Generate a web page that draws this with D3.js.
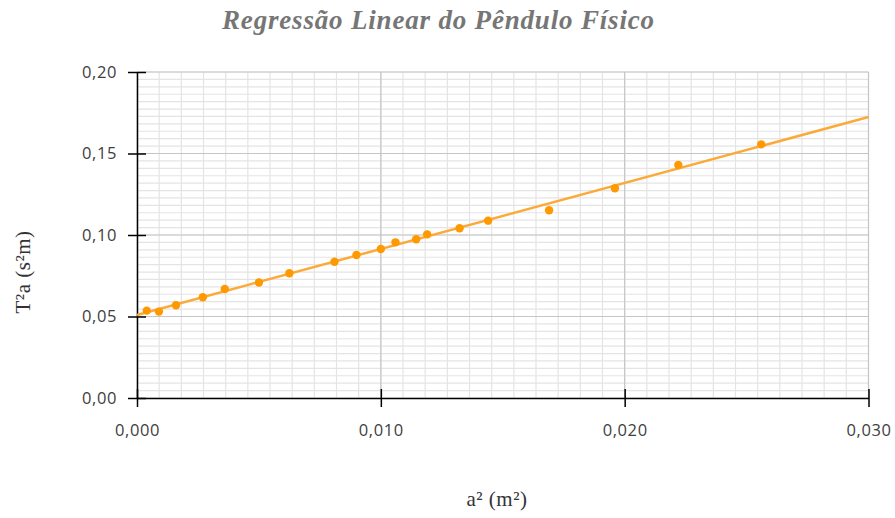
<!DOCTYPE html>
<html>
<head>
<meta charset="utf-8">
<script src="https://cdn.jsdelivr.net/npm/d3@7"></script>
<style>
  html, body { margin: 0; padding: 0; background: #ffffff; }
  svg { display: block; }
</style>
</head>
<body>
<svg id="chart" width="895" height="518"></svg>
<script>
// ---- data ----
const xValues = [0.0004, 0.0009, 0.0016, 0.0027, 0.0036, 0.0050, 0.00625, 0.0081, 0.0090, 0.0100,
                 0.0106, 0.01145, 0.0119, 0.01323, 0.0144, 0.0169, 0.0196, 0.0222, 0.0256];
const yValues = [0.0536, 0.0530, 0.0569, 0.0618, 0.0669, 0.0709, 0.0765, 0.0836, 0.0877, 0.0914,
                 0.0955, 0.0974, 0.1004, 0.1041, 0.1088, 0.1152, 0.1287, 0.1429, 0.1556];
const xTicks = [0, 0.010, 0.020, 0.030];
const yTicks = [0, 0.05, 0.10, 0.15, 0.20];
const titleText = "Regressão Linear do Pêndulo Físico";
const xTitle = "a² (m²)";
const yTitle = "T²a (s²m)";

(function () {
// ---- layout ----
const svg = d3.select("#chart");
const pLeft = 137, pRight = 868.5, pTop = 72, pBottom = 398;
const x = d3.scaleLinear().domain([0, 0.030]).range([pLeft, pRight]);
const y = d3.scaleLinear().domain([0, 0.20]).range([pBottom, pTop]);
const fmt = (d, dec) => d.toFixed(dec).replace(".", ",");

// minor grid (11 subdivisions per major, as in the reference)
const xMinor = d3.range(0, 33 + 1).map(i => i * 0.010 / 11);
const yMinor = d3.range(0, 44 + 1).map(i => i * 0.05 / 11);
svg.append("g").selectAll("line").data(xMinor).join("line")
  .attr("x1", d => x(d)).attr("x2", d => x(d)).attr("y1", pTop).attr("y2", pBottom)
  .attr("stroke", "#e4e4e4").attr("stroke-width", 1.2);
svg.append("g").selectAll("line").data(yMinor).join("line")
  .attr("x1", pLeft).attr("x2", pRight).attr("y1", d => y(d)).attr("y2", d => y(d))
  .attr("stroke", "#e4e4e4").attr("stroke-width", 1.2);
// major grid
svg.append("g").selectAll("line").data(xTicks.slice(1)).join("line")
  .attr("x1", d => x(d)).attr("x2", d => x(d)).attr("y1", pTop).attr("y2", pBottom)
  .attr("stroke", "#c6c6c6").attr("stroke-width", 1.2);
svg.append("g").selectAll("line").data(yTicks.slice(1)).join("line")
  .attr("x1", pLeft).attr("x2", pRight).attr("y1", d => y(d)).attr("y2", d => y(d))
  .attr("stroke", "#c6c6c6").attr("stroke-width", 1.2);

// ---- axes ----
const tickLen = 9;
const tickFont = "'Open Sans', 'Noto Sans', sans-serif";
const yAxis = d3.axisLeft(y).tickValues(yTicks).tickFormat(d => fmt(d, 2))
  .tickSizeInner(tickLen).tickSizeOuter(0).tickPadding(11);
const gy = svg.append("g").attr("transform", `translate(${pLeft},0)`).call(yAxis);
gy.select(".domain").attr("stroke", "#000").attr("stroke-width", 1.5);
gy.selectAll(".tick line").attr("x1", tickLen).attr("stroke", "#000").attr("stroke-width", 1.5);
gy.selectAll(".tick text").attr("font-family", tickFont)
  .attr("font-size", 16.5).attr("letter-spacing", 0.6).attr("fill", "#404040");

const xAxis = d3.axisBottom(x).tickValues(xTicks).tickFormat(d => fmt(d, 3))
  .tickSizeInner(tickLen).tickSizeOuter(0).tickPadding(17);
const gx = svg.append("g").attr("transform", `translate(0,${pBottom})`).call(xAxis);
gx.select(".domain").attr("stroke", "#000").attr("stroke-width", 1.5);
gx.selectAll(".tick line").attr("y1", -tickLen).attr("stroke", "#000").attr("stroke-width", 1.5);
gx.selectAll(".tick text").attr("font-family", tickFont)
  .attr("font-size", 16.5).attr("letter-spacing", 0.6).attr("fill", "#404040");

// ---- linear regression trendline (least squares from the data) ----
const n = xValues.length;
const mx = d3.mean(xValues), my = d3.mean(yValues);
let sxy = 0, sxx = 0;
for (let i = 0; i < n; i++) { sxy += (xValues[i]-mx)*(yValues[i]-my); sxx += (xValues[i]-mx)**2; }
const slope = sxy / sxx, intercept = my - slope * mx;
const lineData = [0, 0.030].map(v => [v, intercept + slope * v]);
svg.append("path").datum(lineData)
  .attr("d", d3.line().x(d => x(d[0])).y(d => y(d[1])))
  .attr("fill", "none").attr("stroke", "#fbaa3a").attr("stroke-width", 2.5);

// ---- points ----
svg.append("g").selectAll("circle").data(xValues.map((v, i) => [v, yValues[i]])).join("circle")
  .attr("cx", d => x(d[0])).attr("cy", d => y(d[1])).attr("r", 4.2)
  .attr("fill", "#ff9900");

// ---- titles ----
svg.append("text").attr("x", 438).attr("y", 29).attr("text-anchor", "middle")
  .attr("font-family", "'Liberation Serif', 'DejaVu Serif', serif")
  .attr("font-style", "italic").attr("font-weight", "bold")
  .attr("font-size", 27).attr("textLength", 432).attr("lengthAdjust", "spacing")
  .attr("fill", "#767676").text(titleText);

svg.append("text").attr("x", 497).attr("y", 506).attr("text-anchor", "middle")
  .attr("font-family", "'Liberation Serif', serif").attr("font-size", 21)
  .attr("letter-spacing", 0.5).attr("fill", "#333").text(xTitle);

svg.append("text").attr("transform", "translate(30,272) rotate(-90)").attr("text-anchor", "middle")
  .attr("font-family", "'Liberation Serif', serif").attr("font-size", 21)
  .attr("letter-spacing", 0.5).attr("fill", "#333").text(yTitle);
})();
</script>
</body>
</html>
